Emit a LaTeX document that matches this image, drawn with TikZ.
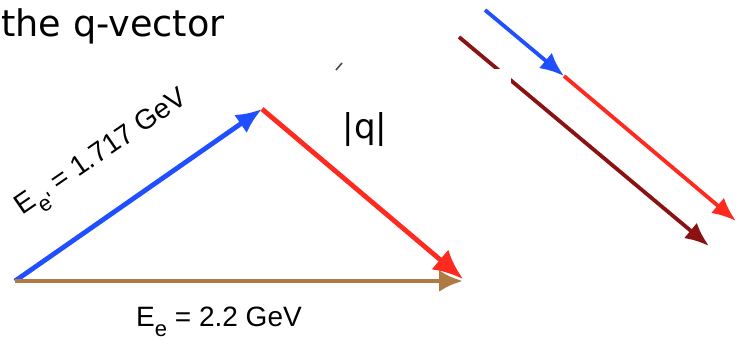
\documentclass[tikz,border=0pt]{standalone}
\usepackage{fontspec}
\newfontfamily\dejavu{DejaVu Sans}
\newfontfamily\helv{Liberation Sans}
\usepackage{tikz}
\usetikzlibrary{arrows.meta, positioning}

\definecolor{eblue}{RGB}{31,79,255}
\definecolor{qred}{RGB}{255,42,31}
\definecolor{ebrown}{RGB}{176,122,69}
\definecolor{qdark}{RGB}{139,18,18}

\tikzset{
  vec/.style={line width=2.4pt, -{Latex[length=13pt, width=11pt]}},
  thinvec/.style={line width=1.9pt, -{Latex[length=12pt, width=10pt]}},
  lbl/.style={inner sep=0pt, font=\helv\fontsize{14}{16}\selectfont}
}

\begin{document}
\begin{tikzpicture}[x=0.5pt, y=-0.5pt]
        \useasboundingbox (0,0) rectangle (740,347);
        % Nodes
        \node (title) [inner sep=0pt, anchor=base west, font=\dejavu\fontsize{18.3}{22}\selectfont] at (1,37) {the q-vector};
        \coordinate (origin) at (15,281);
        \coordinate (apex) at (262,109);
        \coordinate (qtip) at (463,279);
        \coordinate (etip) at (463,281);
        \node (qlabel) [inner sep=0pt, font=\dejavu\fontsize{17}{20}\selectfont] at (365,130) {|q|};
        \node (eplabel) [lbl, rotate=34.5] at (103,155) {E\raisebox{-0.35em}{\fontsize{11}{12}\selectfont e'} = 1.717 GeV};
        \node (elabel) [lbl] at (219,322) {E\raisebox{-0.35em}{\fontsize{11}{12}\selectfont e} = 2.2 GeV};
        \coordinate (bstart) at (485,10);
        \coordinate (bend) at (564,76);
        \coordinate (rend) at (736,221);
        \coordinate (dstart) at (459,37);
        \coordinate (dend) at (709,246);
        
        % Arrows
        \draw[vec, eblue] (origin) -- (apex);
        \draw[vec, qred, -{Latex[length=15pt, width=13pt]}] (apex) -- (qtip);
        \draw[vec, ebrown, -{Latex[length=12pt, width=11pt]}] (origin) -- (etip);
        \draw[thinvec, qdark] (dstart) -- (dend);
        \fill[white] (440,69) rectangle (511,95);
        \draw[line width=0.8pt, black!70] (336,70) -- (342,63);
        \draw[thinvec, qred] (bend) -- (rend);
        \draw[thinvec, eblue] (bstart) -- (bend);
    \end{tikzpicture}
\end{document}
